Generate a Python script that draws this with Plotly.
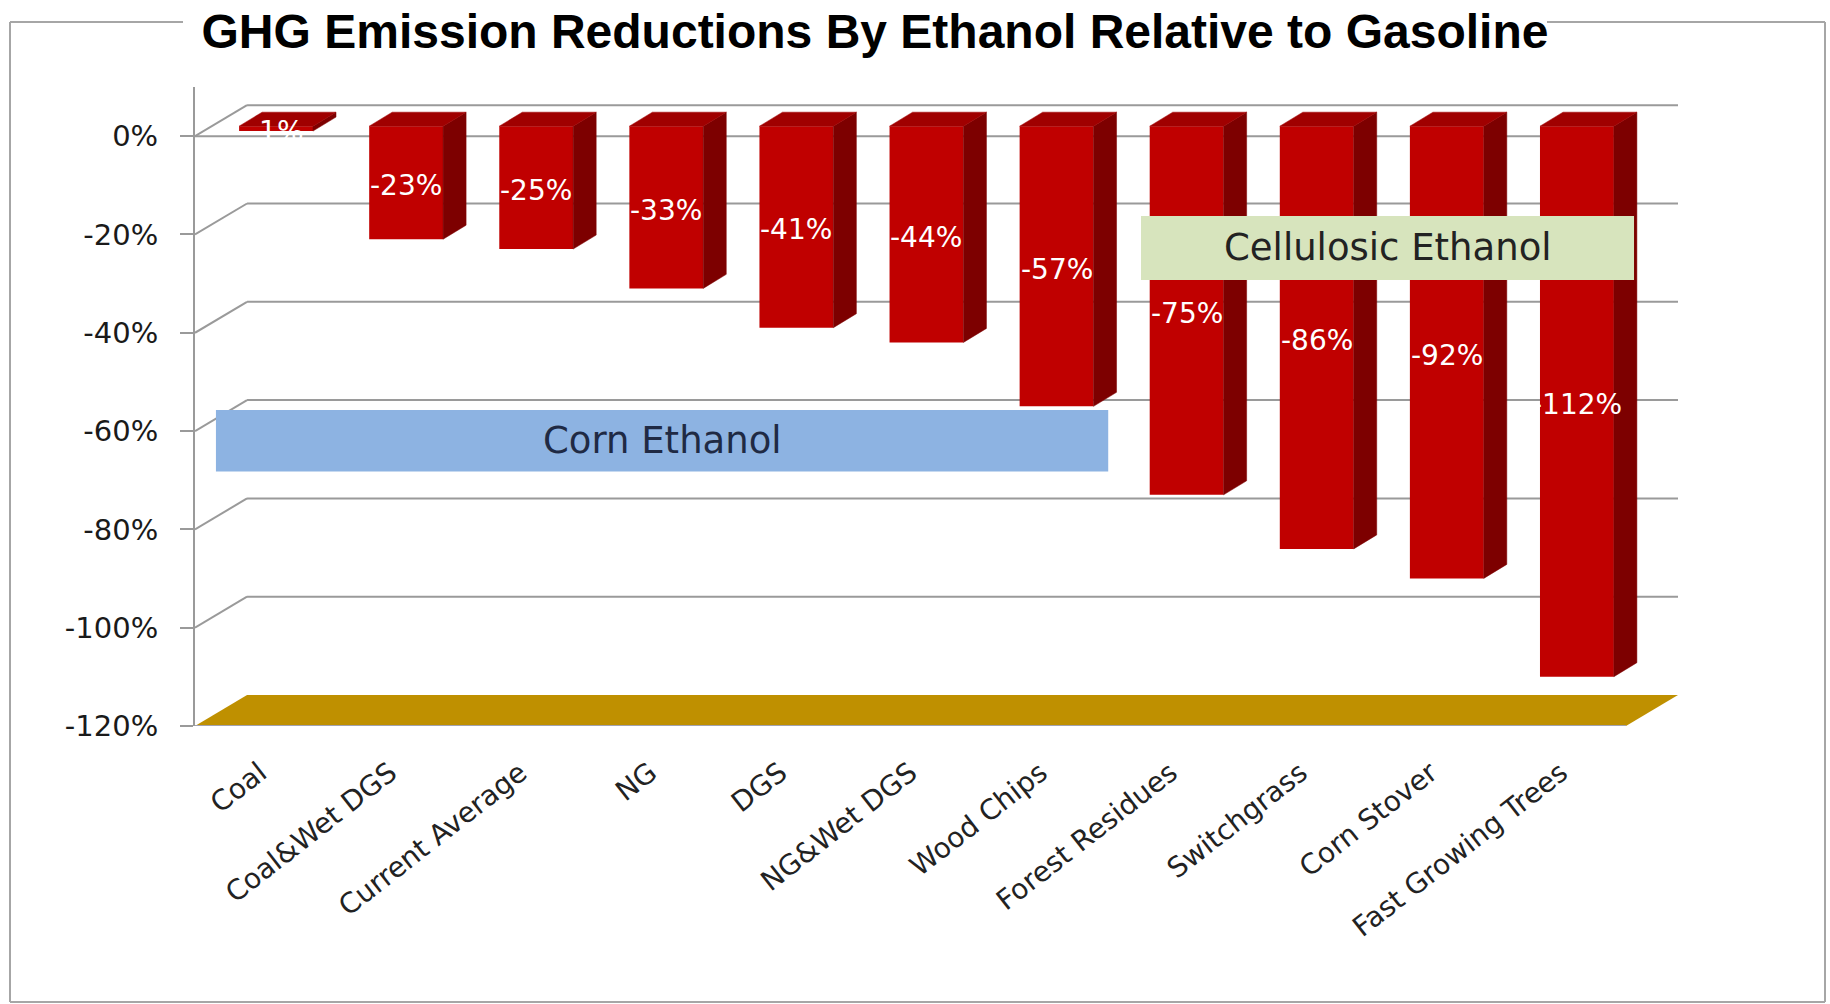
import plotly.graph_objects as go

# ---- data -------------------------------------------------------------
categories = ["Coal", "Coal&Wet DGS", "Current Average", "NG", "DGS", "NG&Wet DGS",
              "Wood Chips", "Forest Residues", "Switchgrass", "Corn Stover",
              "Fast Growing Trees"]
reductions = [-1, -23, -25, -33, -41, -44, -57, -75, -86, -92, -112]
y_ticks = [0, -20, -40, -60, -80, -100, -120]
y_tick_labels = ["0%", "-20%", "-40%", "-60%", "-80%", "-100%", "-120%"]
group_names = ["Corn Ethanol", "Cellulosic Ethanol"]

# ---- pseudo-3D geometry (data units) ----------------------------------
PLOT_L, PLOT_R, PLOT_T, PLOT_B = 195, 1678, 87, 726
Y_MIN, Y_MAX = -120, 10
WALL_DX = 0.40      # depth offset of back wall (categories)
WALL_DY = 6.3       # depth offset of back wall (% units)
FACE_DX = 0.123     # bar front face offset from front plane
FACE_DY = 2.03
HALF_W = 0.284      # half width of a bar front face
SIDE_DX = 0.177     # depth of the bar itself
SIDE_DY = 2.85
X_MIN, X_MAX = -0.5, 10.5 + WALL_DX

FRONT = "#C00000"
SIDE = "#7D0000"
TOP = "#A00000"
GRID = "#9A9A9A"
FLOOR = "#BF9000"
LABEL_FONT = "DejaVu Sans"

n = len(categories)
xs = list(range(n))

fig = go.Figure()

# front faces of the columns
fig.add_trace(go.Bar(
    x=[i + FACE_DX for i in xs], y=reductions, base=FACE_DY,
    width=2 * HALF_W, marker=dict(color=FRONT, line=dict(width=0)),
    hoverinfo="skip", showlegend=False,
))

# right side faces and top faces
side_x, side_y, top_x, top_y = [], [], [], []
for i, v in zip(xs, reductions):
    xl = i + FACE_DX - HALF_W
    xr = i + FACE_DX + HALF_W
    y0 = FACE_DY
    y1 = v + FACE_DY
    side_x += [xr, xr + SIDE_DX, xr + SIDE_DX, xr, xr, None]
    side_y += [y0, y0 + SIDE_DY, y1 + SIDE_DY, y1, y0, None]
    top_x += [xl, xr, xr + SIDE_DX, xl + SIDE_DX, xl, None]
    top_y += [y0, y0, y0 + SIDE_DY, y0 + SIDE_DY, y0, None]

fig.add_trace(go.Scatter(x=side_x, y=side_y, mode="lines", fill="toself",
                         fillcolor=SIDE, line=dict(color=SIDE, width=0.5),
                         hoverinfo="skip", showlegend=False))
fig.add_trace(go.Scatter(x=top_x, y=top_y, mode="lines", fill="toself",
                         fillcolor=TOP, line=dict(color=TOP, width=0.5),
                         hoverinfo="skip", showlegend=False))

shapes = []
# back-wall gridlines and side-wall diagonals
for t in y_ticks[:-1]:
    shapes.append(dict(type="line", xref="x", yref="y", layer="below",
                       x0=X_MIN + WALL_DX, x1=X_MAX, y0=t + WALL_DY, y1=t + WALL_DY,
                       line=dict(color=GRID, width=2)))
    shapes.append(dict(type="line", xref="x", yref="y", layer="below",
                       x0=X_MIN, x1=X_MIN + WALL_DX, y0=t, y1=t + WALL_DY,
                       line=dict(color=GRID, width=2)))
# category axis line at 0%
shapes.append(dict(type="line", xref="x", yref="y", layer="below",
                   x0=X_MIN, x1=X_MAX - WALL_DX, y0=0, y1=0,
                   line=dict(color=GRID, width=2)))
# floor
fy = y_ticks[-1]
shapes.append(dict(type="path", xref="x", yref="y", layer="below",
                   path=(f"M{X_MIN},{fy} L{X_MAX - WALL_DX},{fy} "
                         f"L{X_MAX},{fy + WALL_DY} L{X_MIN + WALL_DX},{fy + WALL_DY} Z"),
                   fillcolor=FLOOR, line=dict(width=0)))
shapes.append(dict(type="line", xref="x", yref="y", layer="above",
                   x0=X_MIN, x1=X_MAX - WALL_DX, y0=fy, y1=fy,
                   line=dict(color="#A2A2AE", width=2)))

# group boxes
boxes = [
    dict(x0=-0.339, x1=6.52, y0=-68.2, y1=-55.7, color="#8DB3E2", text_color="#1F2A44"),
    dict(x0=6.772, x1=10.562, y0=-29.26, y1=-16.24, color="#D7E4BD", text_color="#222222"),
]
annotations = []
for name, b in zip(group_names, boxes):
    shapes.append(dict(type="rect", xref="x", yref="y", layer="above",
                       x0=b["x0"], x1=b["x1"], y0=b["y0"], y1=b["y1"],
                       fillcolor=b["color"], line=dict(width=0)))
    annotations.append(dict(x=(b["x0"] + b["x1"]) / 2, y=(b["y0"] + b["y1"]) / 2,
                            xref="x", yref="y", text=name, showarrow=False,
                            font=dict(family=LABEL_FONT, size=37, color=b["text_color"])))

# value labels on the column faces
for i, v in zip(xs, reductions):
    annotations.append(dict(x=i + FACE_DX, y=v / 2 + FACE_DY, xref="x", yref="y",
                            text=f"{v:.0f}%", showarrow=False, yshift=-3,
                            font=dict(family=LABEL_FONT, size=28, color="#FFFFFF")))


# outer frame (gap left for the title)
def to_paper(px, py):
    return ((px - PLOT_L) / (PLOT_R - PLOT_L), (PLOT_B - py) / (PLOT_B - PLOT_T))


frame = [((10, 22), (10, 1002)), ((10, 1002), (1825, 1002)),
         ((1825, 22), (1825, 1002)), ((10, 22), (183, 22)), ((1547, 22), (1825, 22))]
for (ax, ay), (bx, by) in frame:
    x0, y0 = to_paper(ax, ay)
    x1, y1 = to_paper(bx, by)
    shapes.append(dict(type="line", xref="paper", yref="paper", x0=x0, y0=y0, x1=x1, y1=y1,
                       line=dict(color="#A6A6A6", width=2)))

fig.update_layout(
    width=1830, height=1004, autosize=False,
    margin=dict(l=PLOT_L, r=1830 - PLOT_R, t=PLOT_T, b=1004 - PLOT_B),
    paper_bgcolor="white", plot_bgcolor="white",
    title=dict(text="<b>GHG Emission Reductions By Ethanol Relative to Gasoline</b>",
               xref="container", yref="container", x=875 / 1830, y=1 - 31 / 1004,
               xanchor="center", yanchor="middle",
               font=dict(family="Liberation Sans, Arial", size=48, color="#000000")),
    xaxis=dict(range=[X_MIN, X_MAX], tickvals=xs, ticktext=categories,
               tickangle=-38, ticks="", showgrid=False, zeroline=False, showline=False,
               tickfont=dict(family=LABEL_FONT, size=28, color="#222222"),
               ticklabelstandoff=24, fixedrange=True),
    yaxis=dict(range=[Y_MIN, Y_MAX], tickvals=y_ticks, ticktext=y_tick_labels,
               showgrid=False, zeroline=False, showline=True, linecolor=GRID, linewidth=2,
               ticks="outside", ticklen=13, tickwidth=2, tickcolor=GRID,
               tickfont=dict(family=LABEL_FONT, size=29, color="#1A1A1A"),
               ticklabelstandoff=16, fixedrange=True),
    shapes=shapes, annotations=annotations, showlegend=False,
)

fig.write_html("out.html")
